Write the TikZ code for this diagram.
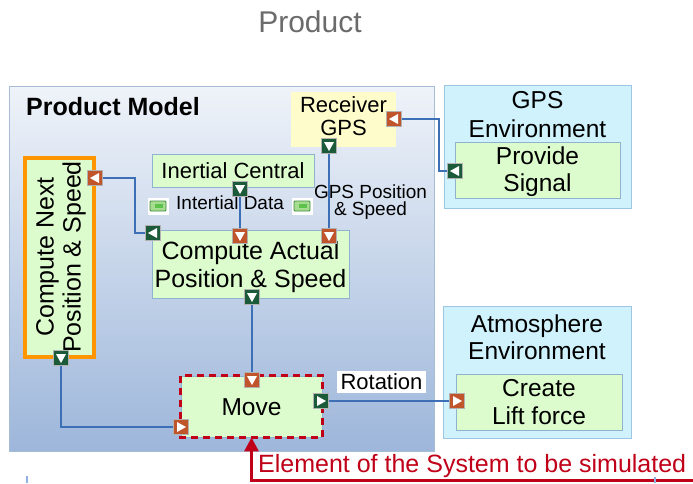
\documentclass[tikz,border=0pt]{standalone}
\usepackage{fontspec}
\setmainfont{Liberation Sans}
\usetikzlibrary{arrows.meta}
\definecolor{boxgreen}{HTML}{DDFCCD}
\definecolor{boxborder}{HTML}{8FB2CF}
\definecolor{envcyan}{HTML}{CFF2FC}
\definecolor{envborder}{HTML}{9CC6E2}
\definecolor{rcvyellow}{HTML}{FFFCCC}
\definecolor{portorange}{HTML}{C0552B}
\definecolor{portgreen}{HTML}{1C5B3A}
\definecolor{connblue}{HTML}{3D6FB6}
\definecolor{redc}{HTML}{C00018}
\definecolor{titlegrey}{HTML}{6B6B6B}
\definecolor{pmtop}{HTML}{EFF3F9}
\definecolor{pmbot}{HTML}{9DB6DA}
\definecolor{pmborder}{HTML}{A6BDD6}
\definecolor{cnorange}{HTML}{FF9500}
\definecolor{icondark}{HTML}{3E8A36}
\definecolor{iconlight}{HTML}{A6DC92}
\definecolor{iconmid}{HTML}{5CC24A}
\definecolor{markblue}{HTML}{8FB0E0}
\newcommand{\fsz}[2]{\fontsize{#1}{#2}\selectfont}
\tikzset{
  gbox/.style={draw=boxborder, fill=boxgreen, line width=0.8pt, inner sep=0pt, align=center},
  envbox/.style={draw=envborder, fill=envcyan, line width=0.8pt, inner sep=0pt},
  portbox/.style={draw=gray!60, line width=0.5pt, minimum size=15pt, inner sep=0pt},
  conn/.style={draw=connblue, line width=1.8pt},
  lbl/.style={inner sep=0pt, align=center},
}
\newcommand{\portD}[4]{%
  \node[portbox, fill=#4] (#1) at (#2,#3) {};
  \fill[white] ([shift={(-5,-4)}]#1.center) -- ([shift={(5,-4)}]#1.center) -- ([shift={(0,5)}]#1.center) -- cycle;}
\newcommand{\portL}[4]{%
  \node[portbox, fill=#4] (#1) at (#2,#3) {};
  \fill[white] ([shift={(4,-5)}]#1.center) -- ([shift={(4,5)}]#1.center) -- ([shift={(-5,0)}]#1.center) -- cycle;}
\newcommand{\portR}[4]{%
  \node[portbox, fill=#4] (#1) at (#2,#3) {};
  \fill[white] ([shift={(-4,-5)}]#1.center) -- ([shift={(-4,5)}]#1.center) -- ([shift={(5,0)}]#1.center) -- cycle;}
\newcommand{\flowicon}[3]{%
  \node[fill=white, minimum width=21pt, minimum height=17pt, inner sep=0pt] (#1) at (#2,#3) {};
  \draw[draw=icondark, fill=iconlight, line width=0.8pt, rounded corners=1pt] ([shift={(-8,-5)}]#1.center) rectangle ([shift={(8,5)}]#1.center);
  \fill[iconmid] ([shift={(-3,-2)}]#1.center) rectangle ([shift={(5,2)}]#1.center);}
\begin{document}
\begin{tikzpicture}[x=1pt,y=-1pt]
\useasboundingbox (0,0) rectangle (693,483);
\fill[white] (0,0) rectangle (693,483);

% title
\node[lbl, anchor=base, text=titlegrey, font=\fsz{30}{34}] (title) at (310,32) {Product};

% product model frame
\node[draw=pmborder, line width=0.8pt, top color=pmtop, bottom color=pmbot, minimum width=425pt, minimum height=365pt, inner sep=0pt] (pm) at (221.5,268.5) {};
\node[lbl, anchor=base west, font=\bfseries\fsz{25}{28}] (pmlbl) at (26,115) {Product Model};

% environments
\node[envbox, minimum width=187pt, minimum height=123pt] (genv) at (537.5,146.5) {};
\node[lbl, font=\fsz{24.5}{29}] (genvlbl) at (537.5,114.5) {GPS\\Environment};
\node[envbox, minimum width=188pt, minimum height=132pt] (aenv) at (537,372) {};
\node[lbl, font=\fsz{24.5}{27}] (aenvlbl) at (537,337.5) {Atmosphere\\Environment};

% boxes
\node[fill=rcvyellow, minimum width=105pt, minimum height=55pt, inner sep=0pt] (rg) at (343.5,119.5) {};
\node[lbl, font=\fsz{22}{23}] (rglbl) at (343.5,116) {Receiver\\GPS};
\node[gbox, minimum width=165pt, minimum height=56pt] (ps) at (537.5,170) {};
\node[lbl, font=\fsz{24.5}{27}] (pslbl) at (537.5,171.5) {Provide\\Signal};
\node[gbox, minimum width=162pt, minimum height=33pt, font=\fsz{22}{24}] (ic) at (233,170.5) {Inertial Central};
\node[gbox, minimum width=197pt, minimum height=68pt] (ca) at (250.5,264) {};
\node[lbl, font=\fsz{25}{28}] (calbl) at (250.5,267) {Compute Actual\\Position \& Speed};
\node[gbox, draw=cnorange, line width=3.5pt, minimum width=69pt, minimum height=199pt] (cn) at (59.5,257.5) {};
\node[lbl, rotate=90, font=\fsz{25}{27}] (cnlbl) at (61,257) {Compute Next\\Position \& Speed};
\node[gbox, minimum width=141pt, minimum height=61pt] (mv) at (251.5,406.5) {};
\node[lbl, font=\fsz{24.5}{27}] (mvlbl) at (251.5,407.5) {Move};
\draw[redc, line width=3pt, dash pattern=on 7pt off 5pt] (mv.north west) rectangle (mv.south east);
\node[gbox, minimum width=166pt, minimum height=56pt, font=\fsz{24.5}{28}] (cl) at (539,402) {Create\\Lift force};

% flow labels
\flowicon{fi1}{158}{206}
\flowicon{fi2}{302}{206}
\node[lbl, anchor=base west, font=\fsz{19}{21}] (idlbl) at (176,209) {Intertial Data};
\node[lbl, font=\fsz{19}{17}] (gpslbl) at (370.5,201.6) {GPS Position\\\& Speed};
\node[fill=white, minimum width=89pt, minimum height=22pt, inner sep=0pt, font=\fsz{22}{24}] (rot) at (381.5,382) {Rotation};

% ports
\portL{rgR}{394}{119}{portorange}
\portD{rgB}{329}{146}{portgreen}
\portL{psL}{455}{171}{portgreen}
\portD{icB}{240}{189}{portgreen}
\portD{caT1}{240}{236}{portorange}
\portD{caT2}{329}{236}{portorange}
\portL{caL}{153}{233}{portgreen}
\portL{cnR}{95}{178}{portorange}
\portD{cnB}{61}{358}{portgreen}
\portD{caB}{252}{297}{portgreen}
\portD{mvT}{252}{380}{portorange}
\portR{mvL}{181}{427}{portorange}
\portR{mvR}{321}{401}{portgreen}
\portR{clL}{457}{401}{portorange}

% connectors
\draw[conn] (rgR.east) -| ([xshift=-8pt]psL.west) -- (psL.west);
\draw[conn] (rgB.south) -- (caT2.north);
\draw[conn] (icB.south) -- (caT1.north);
\draw[conn] (cnR.east) -| ([xshift=-10pt]caL.west) -- (caL.west);
\draw[conn] (caB.south) -- (mvT.north);
\draw[conn] (cnB.south) |- (mvL.west);
\draw[conn] (mvR.east) -- (clL.west);

% red annotation
\coordinate (redend) at (693,480);
\draw[redc, line width=3pt, -{Triangle[length=14pt,width=14pt]}] (redend) -| (mv.south);
\node[lbl, anchor=base west, text=redc, font=\fsz{25}{28}] (elbl) at (258,472) {Element of the System to be simulated};

% small cut-off marks
\draw[markblue, line width=2pt] (27,476) -- (27,483);
\draw[markblue, line width=2pt] (655,477) -- (655,483);
\end{tikzpicture}
\end{document}
